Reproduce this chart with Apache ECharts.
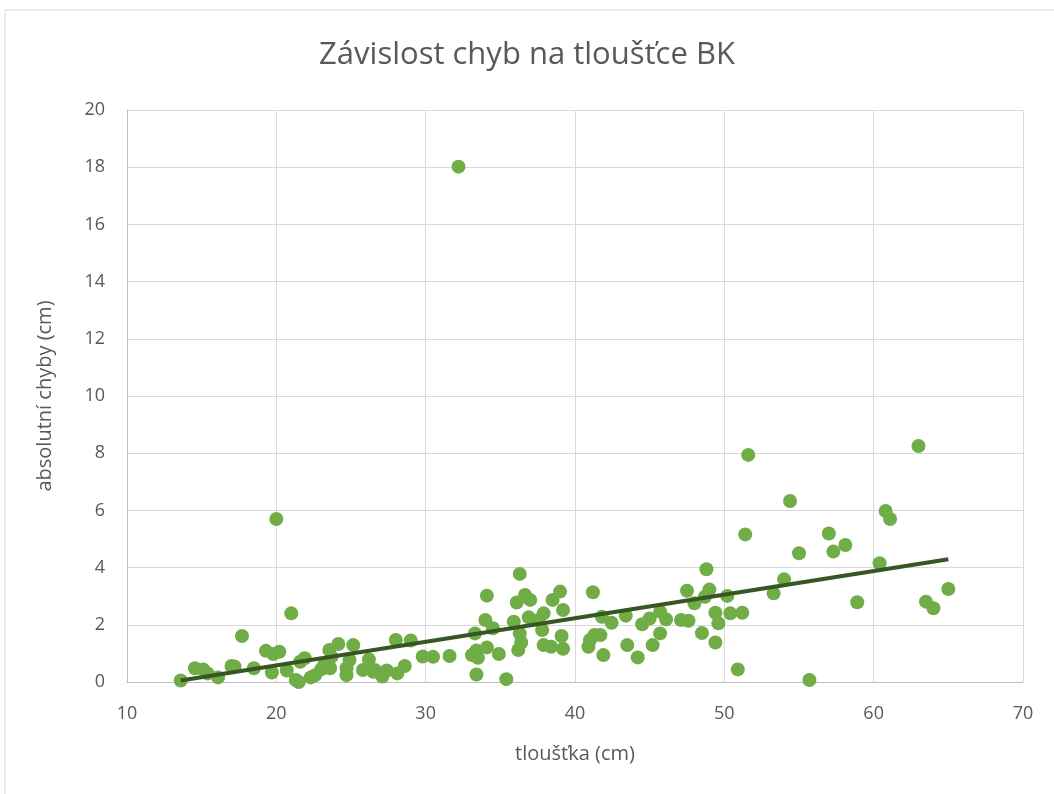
<!DOCTYPE html>
<html>
<head>
<meta charset="utf-8">
<title>Závislost chyb na tloušťce BK</title>
<style type="text/css">
	html,body{margin:0;padding:0;background:#fff}
	#main{width:1054px;height:794px;}
</style>
</head>
<body>
	<div id="main"></div>
<script src="https://cdn.jsdelivr.net/npm/echarts@6/dist/echarts.min.js"></script>
<script type="text/javascript">

// tloušťka (cm)
var thickness = [
	13.6, 14.55, 15.1, 15.4, 16.1, 17.0, 17.2, 17.7, 18.5, 19.3,
	19.7, 19.8, 20.0, 20.2, 20.7, 21.0, 21.3, 21.5, 21.6, 21.9,
	22.3, 22.6, 23.0, 23.2, 23.55, 23.7, 23.6, 24.15, 24.7, 24.7,
	24.9, 25.15, 25.8, 26.2, 26.5, 26.6, 27.1, 27.4, 28.1, 28.0,
	28.6, 29.0, 29.8, 30.5, 31.6, 32.2,
	33.1, 33.3, 33.4, 33.4, 33.5, 34.1, 34.0, 34.1, 34.5, 34.9,
	35.4, 35.9, 36.1, 36.3, 36.65, 36.3, 36.4, 36.2, 36.9, 37.0,
	37.9, 37.55, 37.8, 37.9, 38.4, 38.5, 39.0, 39.2, 39.1, 39.2,
	40.9, 41.0, 41.2, 41.3, 41.7, 41.9, 41.8, 42.45, 43.4, 43.5,
	44.2, 44.5, 45.0, 45.2, 45.7, 45.7, 46.1, 47.1, 47.6, 47.5,
	48.0, 48.5, 48.8, 49.0, 48.7, 49.4, 49.4, 49.6, 50.2, 50.4,
	50.9, 51.2, 51.4, 51.6, 53.3, 54.0, 54.4, 55.0, 55.7, 57.0,
	57.3, 58.1, 58.9, 60.4, 60.8, 61.1, 63.0, 63.5, 64.0, 65.0
];
// absolutní chyby (cm)
var errors = [
	0.05, 0.48, 0.44, 0.30, 0.16, 0.56, 0.54, 1.61, 0.48, 1.09,
	0.33, 0.98, 5.70, 1.06, 0.40, 2.40, 0.07, 0.00, 0.71, 0.83,
	0.16, 0.24, 0.44, 0.60, 1.12, 0.88, 0.48, 1.33, 0.24, 0.48,
	0.77, 1.29, 0.42, 0.79, 0.36, 0.42, 0.19, 0.40, 0.30, 1.47,
	0.56, 1.45, 0.89, 0.88, 0.91, 18.02,
	0.94, 1.70, 0.26, 1.10, 0.85, 3.02, 2.17, 1.21, 1.88, 0.98,
	0.10, 2.11, 2.78, 3.78, 3.04, 1.70, 1.38, 1.12, 2.26, 2.87,
	2.40, 2.17, 1.82, 1.29, 1.23, 2.87, 3.16, 2.52, 1.61, 1.16,
	1.23, 1.47, 3.14, 1.64, 1.64, 0.94, 2.28, 2.07, 2.32, 1.29,
	0.86, 2.02, 2.22, 1.29, 2.46, 1.70, 2.19, 2.17, 2.14, 3.19,
	2.75, 1.71, 3.94, 3.23, 2.98, 2.42, 1.38, 2.05, 3.01, 2.40,
	0.44, 2.42, 5.16, 7.94, 3.10, 3.59, 6.33, 4.50, 0.07, 5.19,
	4.56, 4.79, 2.79, 4.15, 5.98, 5.70, 8.25, 2.81, 2.58, 3.25
];

// lineární spojnice trendu
var trendRange = [13.6, 65.0];
var trendSlope = 0.0825;
var trendIntercept = -1.07;

var xTicks = [10, 20, 30, 40, 50, 60, 70];
var yTicks = [0, 2, 4, 6, 8, 10, 12, 14, 16, 18, 20];

var points = thickness.map(function(x, i){ return [x, errors[i]]; });
var trend = trendRange.map(function(x){ return [x, trendSlope * x + trendIntercept]; });

var font = "'Open Sans', 'Liberation Sans', sans-serif";
var chart = echarts.init(document.getElementById('main'));

chart.setOption({
	animation: false,
	backgroundColor: '#fff',
	textStyle: { fontFamily: font },
	title: {
		text: 'Závislost chyb na tloušťce BK',
		left: 'center',
		top: 35,
		textStyle: { color: '#595959', fontSize: 31, fontWeight: 'normal', fontFamily: font }
	},
	// okraj oblasti grafu
	graphic: [{
		type: 'rect',
		shape: { x: 5, y: 10, width: 1100, height: 900 },
		style: { fill: 'none', stroke: '#d9d9d9', lineWidth: 1 },
		silent: true
	}],
	grid: { left: 127, right: 31, top: 110, bottom: 112 },
	xAxis: {
		type: 'value',
		min: xTicks[0],
		max: xTicks[xTicks.length - 1],
		interval: xTicks[1] - xTicks[0],
		name: 'tloušťka (cm)',
		nameLocation: 'middle',
		nameGap: 62,
		nameTextStyle: { color: '#595959', fontSize: 20 },
		axisLine: { show: true, lineStyle: { color: '#bfbfbf', width: 1 } },
		axisTick: { show: false },
		axisLabel: { color: '#595959', fontSize: 18, margin: 23 },
		splitLine: { show: true, lineStyle: { color: '#d9d9d9', width: 1 } }
	},
	yAxis: {
		type: 'value',
		min: yTicks[0],
		max: yTicks[yTicks.length - 1],
		interval: yTicks[1] - yTicks[0],
		name: 'absolutní chyby (cm)',
		nameLocation: 'middle',
		nameGap: 72,
		nameTextStyle: { color: '#595959', fontSize: 20 },
		axisLine: { show: true, lineStyle: { color: '#bfbfbf', width: 1 } },
		axisTick: { show: false },
		axisLabel: { color: '#595959', fontSize: 18, margin: 22 },
		splitLine: { show: true, lineStyle: { color: '#d9d9d9', width: 1 } }
	},
	series: [
		{
			name: 'chyby',
			type: 'scatter',
			data: points,
			symbolSize: 14,
			itemStyle: { color: '#70ad47', opacity: 1 },
			z: 2
		},
		{
			name: 'trend',
			type: 'line',
			data: trend,
			symbol: 'none',
			lineStyle: { color: '#375623', width: 4 },
			z: 3
		}
	]
});
</script>
</body>
</html>
